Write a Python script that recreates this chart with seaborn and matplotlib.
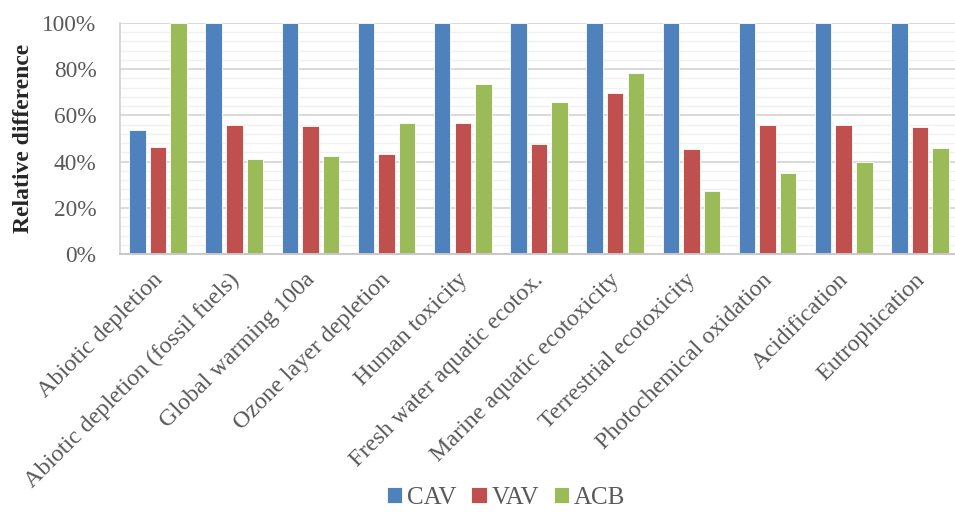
import matplotlib
matplotlib.use("Agg")
import matplotlib.pyplot as plt
from matplotlib.ticker import FixedLocator, MultipleLocator, PercentFormatter
from matplotlib.transforms import ScaledTranslation
import pandas as pd
import seaborn as sns

categories = [
    "Abiotic depletion",
    "Abiotic depletion (fossil fuels)",
    "Global warming 100a",
    "Ozone layer depletion",
    "Human toxicity",
    "Fresh water aquatic ecotox.",
    "Marine aquatic ecotoxicity",
    "Terrestrial ecotoxicity",
    "Photochemical oxidation",
    "Acidification",
    "Eutrophication",
]
series = ["CAV", "VAV", "ACB"]
cav = [0.537, 1.0, 1.0, 1.0, 1.0, 1.0, 1.0, 1.0, 1.0, 1.0, 1.0]
vav = [0.465, 0.558, 0.555, 0.434, 0.566, 0.477, 0.696, 0.453, 0.560, 0.557, 0.551]
acb = [1.0, 0.412, 0.425, 0.568, 0.734, 0.660, 0.783, 0.272, 0.350, 0.398, 0.459]
colors = ["#4F81BD", "#C0504D", "#9BBB59"]

df = pd.DataFrame({
    "category": categories * 3,
    "system": [s for s in series for _ in categories],
    "value": cav + vav + acb,
})

sns.set_theme(style="white")
plt.rcParams["font.family"] = ["Liberation Serif", "DejaVu Serif"]
text_color = "#595959"

fig = plt.figure(figsize=(9.55, 5.12), dpi=100)
ax = fig.add_axes([120 / 955, 1 - 254 / 512, 838 / 955, 231 / 512])

sns.barplot(data=df, x="category", y="value", hue="system", order=categories,
            hue_order=series, palette=colors, width=0.81, gap=0.2,
            edgecolor="white", linewidth=0.6, saturation=1, ax=ax, legend=True)

ax.set_xlim(-0.5, len(categories) - 0.5)
ax.set_ylim(0, 1)
ax.yaxis.set_major_locator(MultipleLocator(0.2))
ax.yaxis.set_minor_locator(MultipleLocator(0.04))
ax.yaxis.set_major_formatter(PercentFormatter(1.0, decimals=0))
ax.grid(axis="y", which="major", color="#D9D9D9", linewidth=1.4, zorder=0)
ax.grid(axis="y", which="minor", color="#F0F0F0", linewidth=1.0, zorder=0)
ax.grid(axis="x", which="both", visible=False)
ax.set_axisbelow(True)

ax.xaxis.set_minor_locator(FixedLocator([i - 0.5 for i in range(len(categories) + 1)]))
ax.tick_params(axis="x", which="major", length=0, pad=11)
ax.tick_params(axis="x", which="minor", length=6, width=1.2, color="#C8C8C8", direction="out")
ax.tick_params(axis="y", which="both", length=0, pad=17)
ax.set_xticks(range(len(categories)))
ax.set_xticklabels(categories, rotation=45, ha="right", rotation_mode="anchor",
                   fontsize=17.3, color=text_color)
shift = ScaledTranslation(-6 / 100, 0, fig.dpi_scale_trans)
for lbl in ax.get_xticklabels():
    lbl.set_transform(lbl.get_transform() + shift)
for lbl in ax.get_yticklabels():
    lbl.set_fontsize(16.8)
    lbl.set_color(text_color)

for side in ["top", "right"]:
    ax.spines[side].set_visible(False)
ax.spines["left"].set_color("#D0D0D0")
ax.spines["left"].set_linewidth(1.2)
ax.spines["bottom"].set_color("#C8C8C8")
ax.spines["bottom"].set_linewidth(1.4)

ax.set_xlabel("")
ax.set_ylabel("Relative difference", fontsize=17, fontweight="bold",
              color="#262626", labelpad=6)

handles, labels = ax.get_legend_handles_labels()
ax.get_legend().remove()
fig.legend(handles, labels, loc="center", bbox_to_anchor=(506 / 955, 1 - 498 / 512),
           ncol=3, frameon=False, fontsize=18, labelcolor=text_color,
           handlelength=0.62, handleheight=0.62, handletextpad=0.18,
           columnspacing=0.6, borderpad=0.1)

fig.savefig("out.png", dpi=100)
